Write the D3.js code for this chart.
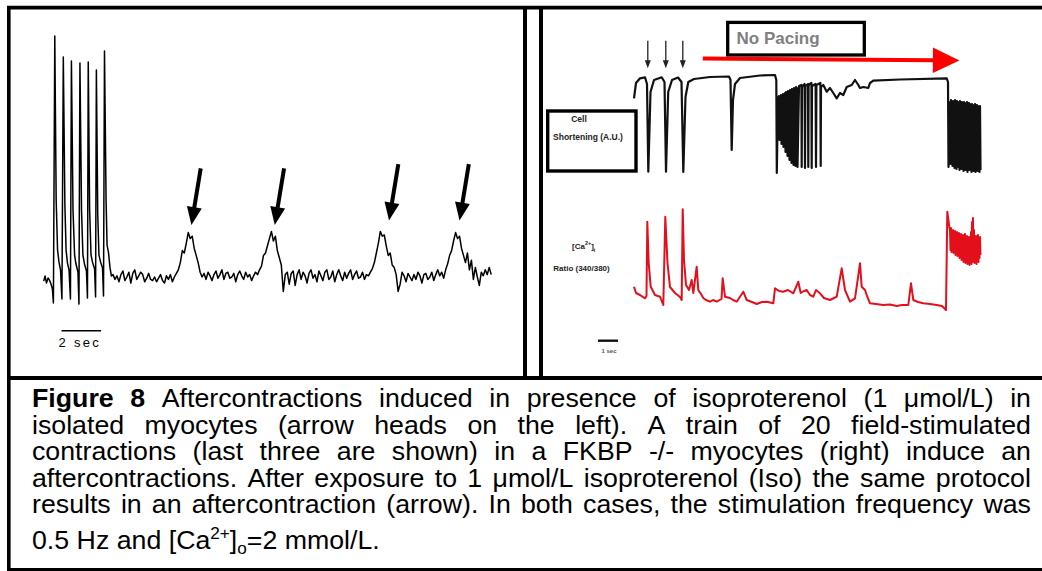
<!DOCTYPE html>
<html>
<head>
<meta charset="utf-8">
<script src="https://cdn.jsdelivr.net/npm/d3@7"></script>
<style>
  body { margin: 0; background: #fff; }
  svg { display: block; }
</style>
</head>
<body>
<div id="figure"></div>
<script>
// ---- left panel: isoproterenol trace (time in s, shortening in A.U.)
var isoPaced = [
  [0.00, -0.17], [0.07, 0.04], [0.14, -0.25], [0.22, -0.04], [0.29, -0.13], [0.37, -0.29],
  [0.44, -0.5], [0.49, -1.08], [0.56, 10.04], [0.63, 3.21], [0.70, 1.13], [0.77, 0.63],
  [0.85, 0.29], [0.92, -0.92], [0.99, 9.17], [1.07, 3.0], [1.13, 1.13], [1.20, 0.58],
  [1.28, 0.29], [1.35, -0.92], [1.40, 9.0], [1.48, 2.79], [1.56, 0.92], [1.63, 0.54],
  [1.73, 0.21], [1.78, -1.13], [1.83, 8.92], [1.91, 2.79], [1.98, 0.92], [2.06, 0.54],
  [2.16, 0.25], [2.21, -0.88], [2.25, 8.96], [2.32, 2.79], [2.39, 0.92], [2.46, 0.63],
  [2.57, 0.33], [2.62, -0.83], [2.66, 8.63], [2.73, 2.58], [2.79, 0.92], [2.87, 0.63],
  [2.97, 0.38], [3.02, -0.79], [3.07, 9.42], [3.15, 3.21], [3.20, 1.33], [3.27, 1.04],
  [3.35, 0.38], [3.42, 0.04]
];
var isoStart = 3.5, isoStep = 0.1;
var isoValues = [
  0.1, -0.1, 0.05, -0.2, 0.1, 0.25, -0.15, 0.0, 0.2, -0.25, 0.15, 0.3, -0.1, 0.05, 0.2, 0.1, -0.2,
  -0.05, 0.15, -0.1, -0.15, 0.0, -0.2, -0.05, 0.1, -0.15, -0.25, 0.05, -0.1, 0.1, -0.2, 0.0, 0.15, 0.3,
  0.6, 1.1, 1.0, 1.4, 1.85, 1.6, 1.7, 1.2, 0.9, 0.6, 0.2, 0.0,
  0.15, -0.1, 0.2, 0.05, -0.15, 0.1, 0.25, -0.05, 0.1, 0.3, -0.1, 0.15, 0.2, -0.05, 0.0,
  0.15, -0.2, 0.1, 0.25, 0.05, -0.1, 0.2, 0.0, 0.1, -0.15, 0.05, 0.2, 0.1, 0.3, 0.45,
  0.9, 1.0, 1.3, 1.6, 1.9, 1.5, 1.7, 1.1, 0.8, 0.5, -0.6, 0.1,
  0.2, -0.3, 0.15, 0.25, -0.35, 0.1, 0.3, -0.1, 0.2, 0.05, -0.25, 0.15, 0.3, -0.05, 0.1,
  -0.2, 0.25, 0.05, -0.15, 0.2, 0.3, -0.1, 0.0, 0.25, -0.2, 0.1, 0.3, 0.05, -0.15, 0.2,
  -0.05, 0.15, 0.3, -0.1, 0.1, 0.25, -0.05, 0.0, 0.2, -0.1, 0.1, 0.05, 0.2, 0.35, 0.6,
  1.0, 1.4, 1.9, 1.7, 1.75, 1.3, 0.9, 1.0, 0.5, 0.4, 0.1, -0.6,
  -0.3, 0.2, 0.05, -0.2, 0.15, 0.0, -0.15, 0.1, -0.1, 0.2, 0.05, -0.25, 0.1, 0.15, -0.1,
  0.0, 0.2, -0.15, 0.1, 0.3, 0.05, 0.2, -0.05, 0.3, 0.55, 0.9,
  1.1, 1.5, 1.85, 1.6, 1.7, 1.2, 0.9, 0.6, 1.0, 0.3, 0.7,
  -0.1, 0.4, 0.0, -0.35, 0.2, 0.05, 0.3, 0.1, 0.4, 0.1
];
var afterTimes = [7.46, 11.67, 17.44, 21.0];
var afterTipLevel = [2.17, 2.17, 2.35, 2.35];
var isoScaleBar = [0.9, 2.9];

// ---- right panel: FKBP -/- cell shortening (time in s, A.U.)
var shortA = [
  [0, 7.37], [0.1, 8.9], [0.3, 9.37], [0.55, 9.47], [0.65, 8.8], [0.715, 0.03], [0.825, 8.0],
  [1.0, 9.2], [1.385, 9.47], [1.525, 9.0], [1.6, 0.03], [1.71, 8.0], [1.9, 9.2], [2.2, 9.45],
  [2.375, 9.0], [2.465, 0.0], [2.575, 7.5], [2.715, 9.0], [3.0, 9.3], [3.8, 9.5], [4.75, 9.55],
  [4.825, 9.2], [4.885, 2.2], [4.95, 7.2], [5.05, 8.8], [5.3, 9.4], [6.3, 9.65], [7.05, 9.7],
  [7.115, 9.2], [7.14, -0.1]
];
var shortBurst1Start = 7.2, shortBurst1Step = 0.025;
var shortBurst1 = [
  7.5, 4.0, 7.6, 3.2, 7.4, 4.5, 7.7, 2.8, 7.6, 3.6, 7.8, 2.5, 7.7, 3.0, 7.9, 2.0, 8.0, 2.6, 7.9, 1.6,
  8.1, 2.2, 8.0, 1.2, 8.2, 1.8, 8.1, 0.9, 8.3, 1.4, 8.2, 0.7, 8.4, 1.0, 8.3, 0.6, 8.5, 0.8, 8.4, 0.5
];
var shortB = [
  [8.25, 8.6], [8.37, 8.7], [8.385, 0.5], [8.4, 8.5], [8.53, 8.8], [8.55, 0.4], [8.57, 8.6],
  [8.7, 8.8], [8.715, 0.5], [8.73, 8.7], [8.87, 8.9], [8.885, 0.4], [8.9, 8.6], [9.08, 8.8],
  [9.1, 0.5], [9.12, 8.7], [9.32, 8.9], [9.335, 0.6], [9.35, 8.5], [9.465, 8.7], [9.635, 8.03],
  [9.8, 8.4], [9.965, 7.9], [10.135, 7.37], [10.3, 7.9], [10.465, 7.7], [10.635, 8.5],
  [10.885, 8.7], [11.05, 9.2], [11.215, 8.7], [11.3, 8.4], [11.465, 8.5], [11.715, 8.4],
  [11.8, 8.9], [11.965, 9.13], [13.3, 9.25], [15.635, 9.37], [15.7, 9.0], [15.725, 0.5]
];
var shortBurst2Start = 15.8, shortBurst2Step = 0.025;
var shortBurst2 = [
  7.0, 0.8, 7.2, 1.5, 6.9, 0.6, 7.1, 1.2, 7.0, 0.4, 7.2, 0.9, 6.9, 0.3, 7.1, 1.0, 7.0, 0.5, 6.8, 0.2,
  7.1, 0.8, 6.9, 0.3, 7.0, 0.6, 6.8, 0.1, 7.0, 0.7, 6.9, 0.2, 6.8, 0.5, 7.0, 0.0, 6.7, 0.6, 6.9, 0.2,
  6.8, 0.4, 6.6, 0.0, 6.8, 0.5, 6.7, 0.1, 6.6, 0.3, 6.8, 0.0, 6.5, 0.4, 6.7, 0.1, 6.6, 0.3, 6.5, 0.0,
  6.6, 0.2
];

// ---- right panel: [Ca2+]i ratio (340/380)
var caA = [
  [0, 1.233], [0.1, 1.17], [0.3, 1.15], [0.55, 1.117], [0.625, 1.14], [0.665, 1.883], [0.735, 1.47],
  [0.835, 1.233], [1.05, 1.15], [1.3, 1.133], [1.465, 1.05], [1.565, 1.933], [1.675, 1.47],
  [1.8, 1.23], [2.05, 1.17], [2.3, 1.13], [2.385, 1.10], [2.435, 2.007], [2.5, 1.50], [2.6, 1.25],
  [2.75, 1.2], [2.885, 1.3], [2.965, 1.17], [3.135, 1.433], [3.215, 1.2], [3.35, 1.16], [3.465, 1.12],
  [3.6, 1.1], [3.8, 1.083], [3.95, 1.1], [4.135, 1.083], [4.375, 1.11], [4.435, 1.317], [4.55, 1.133],
  [4.8, 1.12], [4.95, 1.1], [5.135, 1.083], [5.465, 1.183], [5.635, 1.10], [5.9, 1.08], [6.135, 1.06],
  [6.4, 1.08], [6.635, 1.083], [6.965, 1.067], [7.05, 1.217], [7.25, 1.19], [7.465, 1.183],
  [7.7, 1.2], [7.965, 1.167], [8.215, 1.283], [8.335, 1.17], [8.5, 1.19], [8.635, 1.2],
  [8.8, 1.15], [8.965, 1.133], [9.1, 1.2], [9.3, 1.167], [9.5, 1.12], [9.8, 1.10], [10.0, 1.12],
  [10.135, 1.133], [10.385, 1.417], [10.55, 1.2], [10.8, 1.083], [11.05, 1.117], [11.3, 1.467],
  [11.385, 1.233], [11.55, 1.2], [11.665, 1.133], [11.8, 1.067], [12.1, 1.06], [12.465, 1.05],
  [12.8, 1.055], [13.135, 1.04], [13.4, 1.05], [13.715, 1.05], [13.85, 1.267], [13.965, 1.10],
  [14.2, 1.08], [14.465, 1.067], [14.8, 1.06], [15.135, 1.05], [15.4, 1.04], [15.6, 1.0],
  [15.665, 1.983], [15.765, 1.833]
];
var caBurstStart = 15.8, caBurstStep = 0.025;
var caBurst = [
  1.80, 1.60, 1.82, 1.58, 1.78, 1.62, 1.80, 1.57, 1.77, 1.60,
  1.79, 1.55, 1.76, 1.58, 1.78, 1.54, 1.75, 1.57, 1.77, 1.52,
  1.74, 1.55, 1.76, 1.50, 1.73, 1.56, 1.75, 1.48, 1.72, 1.53,
  1.76, 1.47, 1.71, 1.52, 1.74, 1.46, 1.70, 1.50, 1.73, 1.45,
  1.70, 1.50, 1.78, 1.46, 1.88, 1.48, 1.92, 1.50, 1.80, 1.47,
  1.72, 1.52, 1.74, 1.46, 1.71, 1.50, 1.75, 1.48, 1.70, 1.52,
  1.73, 1.55
];
var pacingTimes = [0.69, 1.59, 2.44];
var noPacingSpan = [3.44, 16.27];
var fkbpScaleBar = [-1.8, -0.8];

// ---- caption
var captionLines = [
  "Figure 8 Aftercontractions induced in presence of isoproterenol (1 \u03bcmol/L) in",
  "isolated myocytes (arrow heads on the left). A train of 20 field-stimulated",
  "contractions (last three are shown) in a FKBP -/- myocytes (right) induce an",
  "aftercontractions. After exposure to 1 \u03bcmol/L isoproterenol (Iso) the same protocol",
  "results in an aftercontraction (arrow). In both cases, the stimulation frequency was"
];
var captionLast = [["0.5 Hz and [Ca", ""], ["2+", "sup"], ["]", ""], ["o", "sub"], ["=2 mmol/L.", ""]];

var width = 1042, height = 571;

var svg = d3.select("#figure")
  .append("svg")
  .attr("width", width)
  .attr("height", height)
  .style("font-family", "'Liberation Sans', Arial, sans-serif");

svg.append("rect").attr("width", width).attr("height", height).attr("fill", "#fff");

function expand(start, step, values) {
  return values.map(function (v, i) { return [start + i * step, v]; });
}

function arrowShape(x1, y1, x2, y2, headLen, headW) {
  var dx = x2 - x1, dy = y2 - y1, len = Math.sqrt(dx * dx + dy * dy);
  var ux = dx / len, uy = dy / len;
  var bx = x2 - ux * headLen, by = y2 - uy * headLen;
  var px = -uy * headW / 2, py = ux * headW / 2;
  return {
    shaft: [[x1, y1], [bx + ux, by + uy]],
    head: [[x2, y2], [bx + px, by + py], [bx - px, by - py]]
  };
}

// ================= left panel =================
var xL = d3.scaleLinear().domain([0, 22.6]).range([43.7, 491.2]);
var yL = d3.scaleLinear().domain([0, 10]).range([277, 37]);

var isoTrace = isoPaced.concat(expand(isoStart, isoStep, isoValues));

var lineL = d3.line()
  .x(function (d) { return xL(d[0]); })
  .y(function (d) { return yL(d[1]); });

svg.append("path")
  .datum(isoTrace)
  .attr("d", lineL)
  .attr("fill", "none")
  .attr("stroke", "#000")
  .attr("stroke-width", 1.5)
  .attr("stroke-linejoin", "round");

afterTimes.forEach(function (t, i) {
  var tx = xL(t), ty = yL(afterTipLevel[i]);
  var a = arrowShape(tx + 9.3, ty - 56.5, tx, ty, 18, 15);
  svg.append("line")
    .attr("x1", a.shaft[0][0]).attr("y1", a.shaft[0][1])
    .attr("x2", a.shaft[1][0]).attr("y2", a.shaft[1][1])
    .attr("stroke", "#000").attr("stroke-width", 4);
  svg.append("polygon")
    .attr("points", a.head.map(function (p) { return p.join(","); }).join(" "))
    .attr("fill", "#000");
});

svg.append("line")
  .attr("x1", xL(isoScaleBar[0])).attr("x2", xL(isoScaleBar[1]))
  .attr("y1", 330.7).attr("y2", 330.7)
  .attr("stroke", "#000").attr("stroke-width", 1.5);

svg.append("text")
  .attr("x", xL(isoScaleBar[0]) - 3)
  .attr("y", 346.5)
  .attr("font-size", 13)
  .attr("letter-spacing", 2.3)
  .text("2 sec");

// ================= right panel =================
var xR = d3.scaleLinear().domain([0, 17.35]).range([634, 981]);
var yS = d3.scaleLinear().domain([0, 10]).range([172, 72]);
var yC = d3.scaleLinear().domain([1, 2]).range([310, 210]);

var shortTrace = shortA
  .concat(expand(shortBurst1Start, shortBurst1Step, shortBurst1))
  .concat(shortB)
  .concat(expand(shortBurst2Start, shortBurst2Step, shortBurst2));

var caTrace = caA.concat(expand(caBurstStart, caBurstStep, caBurst));

svg.append("path")
  .datum(shortTrace)
  .attr("d", d3.line()
    .x(function (d) { return xR(d[0]); })
    .y(function (d) { return yS(d[1]); }))
  .attr("fill", "none")
  .attr("stroke", "#111")
  .attr("stroke-width", 2.2)
  .attr("stroke-linejoin", "round");

svg.append("path")
  .datum(caTrace)
  .attr("d", d3.line()
    .x(function (d) { return xR(d[0]); })
    .y(function (d) { return yC(d[1]); }))
  .attr("fill", "none")
  .attr("stroke", "#e3101c")
  .attr("stroke-width", 2)
  .attr("stroke-linejoin", "round");

// pacing arrows
pacingTimes.forEach(function (t) {
  var a = arrowShape(xR(t), 40.7, xR(t), 68.3, 8, 6);
  svg.append("line")
    .attr("x1", a.shaft[0][0]).attr("y1", a.shaft[0][1])
    .attr("x2", a.shaft[1][0]).attr("y2", a.shaft[1][1])
    .attr("stroke", "#222").attr("stroke-width", 1.3);
  svg.append("polygon")
    .attr("points", a.head.map(function (p) { return p.join(","); }).join(" "))
    .attr("fill", "#222");
});

// no pacing box
svg.append("rect")
  .attr("x", 727.7).attr("y", 22.4)
  .attr("width", 136.6).attr("height", 32.6)
  .attr("fill", "#fff")
  .attr("stroke", "#000")
  .attr("stroke-width", 3.3);

svg.append("text")
  .attr("x", 736.5).attr("y", 44)
  .attr("font-size", 17)
  .attr("font-weight", "bold")
  .attr("fill", "#7f7f7f")
  .text("No Pacing");

// red arrow
var redArrow = arrowShape(xR(noPacingSpan[0]), 58.6, xR(noPacingSpan[1]), 60.5, 26.5, 25.5);
svg.append("line")
  .attr("x1", redArrow.shaft[0][0]).attr("y1", redArrow.shaft[0][1])
  .attr("x2", redArrow.shaft[1][0]).attr("y2", redArrow.shaft[1][1])
  .attr("stroke", "#ff0000").attr("stroke-width", 4);
svg.append("polygon")
  .attr("points", redArrow.head.map(function (p) { return p.join(","); }).join(" "))
  .attr("fill", "#ff0000");

// trace labels
svg.append("text")
  .attr("x", 579).attr("y", 122)
  .attr("text-anchor", "middle")
  .attr("font-size", 8.5).attr("font-weight", "bold").attr("fill", "#222")
  .text("Cell");
svg.append("text")
  .attr("x", 588).attr("y", 139.5)
  .attr("text-anchor", "middle")
  .attr("font-size", 8.5).attr("font-weight", "bold").attr("fill", "#222")
  .text("Shortening (A.U.)");

svg.append("rect")
  .attr("x", 547.7).attr("y", 111)
  .attr("width", 88.3).attr("height", 60)
  .attr("fill", "none")
  .attr("stroke", "#000")
  .attr("stroke-width", 3.4);

var caLabel = svg.append("text")
  .attr("x", 572).attr("y", 249)
  .attr("font-size", 8).attr("font-weight", "bold").attr("fill", "#222");
caLabel.append("tspan").text("[Ca");
caLabel.append("tspan").attr("dy", -4).attr("font-size", 5.5).text("2+");
caLabel.append("tspan").attr("dy", 4).text("]");
caLabel.append("tspan").attr("dy", 2.5).attr("font-size", 5.5).text("i");

svg.append("text")
  .attr("x", 581.5).attr("y", 270.5)
  .attr("text-anchor", "middle")
  .attr("font-size", 8).attr("font-weight", "bold").attr("fill", "#222")
  .text("Ratio (340/380)");

svg.append("line")
  .attr("x1", xR(fkbpScaleBar[0])).attr("x2", xR(fkbpScaleBar[1]))
  .attr("y1", 340.7).attr("y2", 340.7)
  .attr("stroke", "#111").attr("stroke-width", 2.4);
svg.append("text")
  .attr("x", (xR(fkbpScaleBar[0]) + xR(fkbpScaleBar[1])) / 2 + 1).attr("y", 352.5)
  .attr("text-anchor", "middle")
  .attr("font-size", 6).attr("font-weight", "bold").attr("fill", "#555")
  .text("1 sec");

// ================= frame =================
var frame = svg.append("g").attr("stroke", "#000").attr("fill", "none");
frame.append("line").attr("x1", 7).attr("x2", width).attr("y1", 7.6).attr("y2", 7.6).attr("stroke-width", 3.6);
frame.append("line").attr("x1", 8.8).attr("x2", 8.8).attr("y1", 6).attr("y2", height).attr("stroke-width", 3.6);
frame.append("line").attr("x1", 525).attr("x2", 525).attr("y1", 6).attr("y2", 379).attr("stroke-width", 4);
frame.append("line").attr("x1", 541).attr("x2", 541).attr("y1", 6).attr("y2", 379).attr("stroke-width", 4);
frame.append("line").attr("x1", 7).attr("x2", width).attr("y1", 378).attr("y2", 378).attr("stroke-width", 4);
frame.append("line").attr("x1", 7).attr("x2", width).attr("y1", 569.6).attr("y2", 569.6).attr("stroke-width", 3);

// ================= caption =================
// the printed caption is a horizontally stretched Arial
var capX0 = 32, capX1 = 1031, capSize = 25, capStretch = 1.07;
var baselines = [407, 433.5, 460, 486.5, 513, 549];
var caption = svg.append("g").attr("font-size", capSize).attr("fill", "#000");

captionLines.forEach(function (line, li) {
  var words = line.split(" ");
  var nodes = words.map(function (w, i) {
    return caption.append("text")
      .attr("font-weight", (li === 0 && i < 2) ? "bold" : null)
      .text(w);
  });
  var widths = nodes.map(function (n) { return n.node().getComputedTextLength() * capStretch; });
  var gap = (capX1 - capX0 - d3.sum(widths)) / (words.length - 1);
  var x = capX0;
  nodes.forEach(function (n, i) {
    n.attr("transform", "translate(" + x + "," + baselines[li] + ") scale(" + capStretch + ",1)");
    x += widths[i] + gap;
  });
});

var last = caption.append("text")
  .attr("transform", "translate(" + capX0 + "," + baselines[5] + ") scale(" + capStretch + ",1)");
var shifts = { sup: -10, sub: 5 };
var prevShift = 0;
captionLast.forEach(function (s) {
  var shift = shifts[s[1]] || 0;
  var sp = last.append("tspan").attr("dy", shift - prevShift).text(s[0]);
  if (s[1]) sp.attr("font-size", 16);
  prevShift = shift;
});
</script>
</body>
</html>
